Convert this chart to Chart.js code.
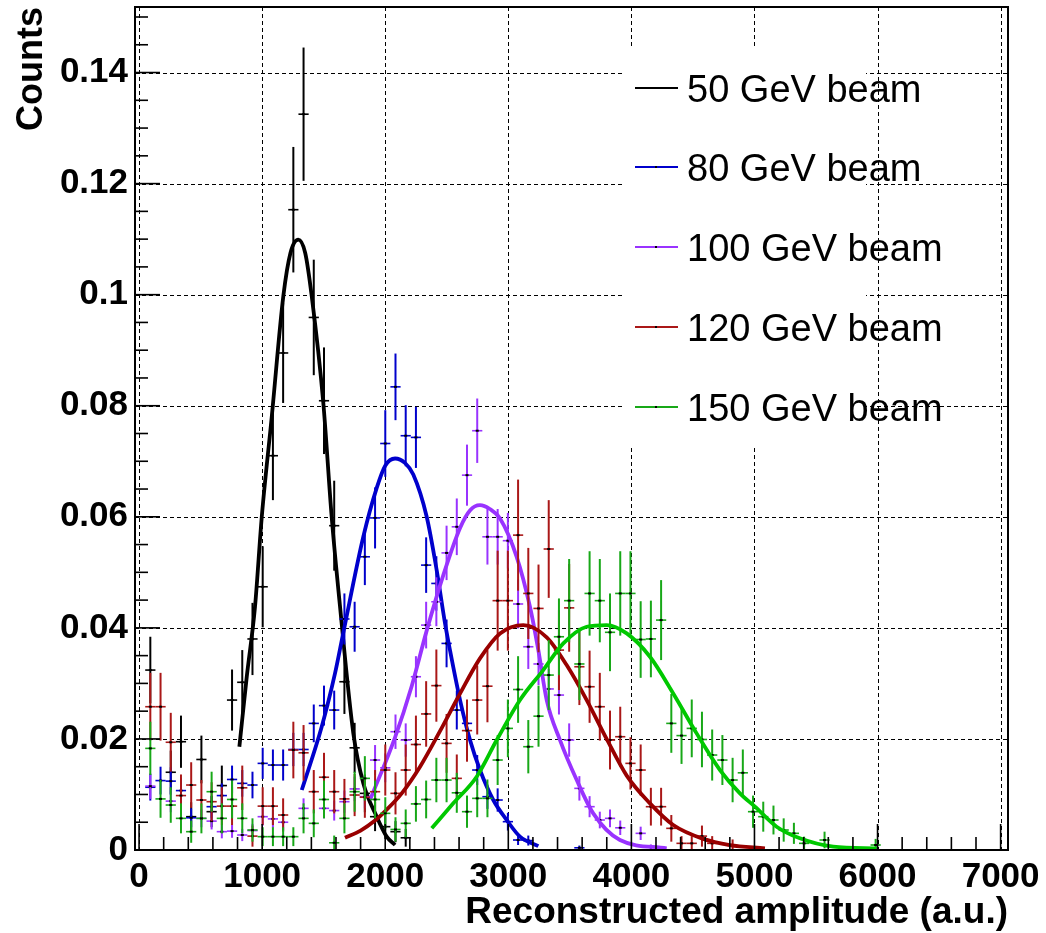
<!DOCTYPE html>
<html><head><meta charset="utf-8">
<script src="https://cdn.jsdelivr.net/npm/chart.js@4/dist/chart.umd.min.js"></script>
<style>html,body{margin:0;padding:0;background:#fff}canvas{display:block}</style>
</head><body>
<canvas id="c" width="1046" height="933"></canvas>
<script>
// ---- categories / labels ----
const seriesLabels = ['50 GeV beam', '80 GeV beam', '100 GeV beam', '120 GeV beam', '150 GeV beam'];
const xTickValues = [0, 1000, 2000, 3000, 4000, 5000, 6000, 7000];
const yTickValues = [0, 0.02, 0.04, 0.06, 0.08, 0.1, 0.12, 0.14];
const yTickLabels = ['0', '0.02', '0.04', '0.06', '0.08', '0.1', '0.12', '0.14'];
const xTitle = 'Reconstructed amplitude (a.u.)';
const yTitle = 'Counts';

// histogram binning (bin k centre = binLow + (k + 0.5) * binWidth), values start at bin index firstBin
const binLow = -33, binWidth = 83, firstBin = 1;

// ---- 50 GeV ----
const counts50 = [0.0324, null, 0.0140, 0.0195, 0.0060, 0.0163, 0.0069, 0.0116, 0.0270, 0.0302, 0.0380, 0.0474, 0.0710, 0.0895, 0.1153, 0.1325, 0.0959, 0.0809, 0.0584, 0.0303, 0.0184, 0.0102, 0.0060, 0.0042, 0.0033, 0.0022];
const errors50 = [0.0060, null, 0.0039, 0.0047, 0.0026, 0.0043, 0.0028, 0.0036, 0.0055, 0.0058, 0.0065, 0.0073, 0.0080, 0.0090, 0.0113, 0.0120, 0.0104, 0.0096, 0.0081, 0.0058, 0.0045, 0.0034, 0.0026, 0.0022, 0.0019, 0.0016];
const fit50X = [815, 875, 942, 997, 1078, 1172, 1230, 1294, 1350, 1403, 1497, 1565, 1633, 1741, 1822, 1931, 2012, 2080];
const fit50Y = [0.0186, 0.0312, 0.0438, 0.0600, 0.0780, 0.0997, 0.1075, 0.1099, 0.1075, 0.0997, 0.0805, 0.0600, 0.0438, 0.0210, 0.0120, 0.0060, 0.0024, 0.0009];

// ---- 80 GeV ----
const counts80 = [0.0113, 0.0125, 0.0124, 0.0107, 0.0058, null, 0.0078, 0.0098, 0.0127, 0.0120, 0.0117, 0.0156, 0.0153, 0.0153, 0.0181, 0.0181, 0.0228, 0.0260, 0.0252, 0.0416, 0.0402, 0.0528, 0.0598, 0.0732, 0.0834, 0.0746, 0.0743, 0.0513, 0.0480, 0.0372, 0.0252, 0.0228, 0.0144, 0.0096, 0.0090, 0.0051, 0.0018, 0.0017, null, null, null, null, 0.0004];
const errors80 = [0.0024, 0.0025, 0.0025, 0.0023, 0.0017, null, 0.0020, 0.0022, 0.0025, 0.0024, 0.0024, 0.0028, 0.0028, 0.0028, 0.0030, 0.0030, 0.0034, 0.0036, 0.0035, 0.0046, 0.0045, 0.0051, 0.0055, 0.0060, 0.0060, 0.0055, 0.0055, 0.0050, 0.0049, 0.0043, 0.0035, 0.0034, 0.0027, 0.0022, 0.0021, 0.0016, 0.0009, 0.0009, null, null, null, null, 0.0004];
const fit80X = [1322, 1484, 1592, 1660, 1822, 1931, 2000, 2080, 2160, 2228, 2337, 2418, 2486, 2526, 2608, 2689, 2770, 2878, 2987, 3095, 3244];
const fit80Y = [0.0108, 0.0222, 0.0318, 0.0392, 0.0564, 0.0652, 0.0692, 0.0705, 0.0697, 0.0676, 0.0600, 0.0504, 0.0408, 0.0360, 0.0270, 0.0198, 0.0144, 0.0090, 0.0054, 0.0024, 0.0007];

// ---- 100 GeV ----
const counts100 = [0.0115, null, 0.0088, null, null, 0.0057, 0.0052, 0.0033, 0.0034, 0.0027, 0.0035, 0.0060, 0.0056, 0.0050, null, 0.0075, null, 0.0075, 0.0071, 0.0087, 0.0110, 0.0096, 0.0162, 0.0148, 0.0213, 0.0198, 0.0312, 0.0405, 0.0447, 0.0535, 0.0582, 0.0675, 0.0755, 0.0564, 0.0564, 0.0557, 0.0443, 0.0366, 0.0335, 0.0290, 0.0279, 0.0198, 0.0111, 0.0078, 0.0054, 0.0057, 0.0040, null, 0.0030, 0.0005];
const errors100 = [0.0023, null, 0.0020, null, null, 0.0016, 0.0015, 0.0012, 0.0012, 0.0011, 0.0012, 0.0016, 0.0016, 0.0015, null, 0.0018, null, 0.0018, 0.0018, 0.0020, 0.0022, 0.0021, 0.0027, 0.0026, 0.0031, 0.0030, 0.0037, 0.0042, 0.0044, 0.0049, 0.0051, 0.0055, 0.0058, 0.0050, 0.0050, 0.0050, 0.0044, 0.0040, 0.0038, 0.0036, 0.0035, 0.0030, 0.0022, 0.0019, 0.0015, 0.0016, 0.0013, null, 0.0012, 0.0005];
const fit100X = [1880, 2080, 2215, 2337, 2472, 2608, 2690, 2770, 2850, 2933, 3068, 3176, 3244, 3312, 3420, 3556, 3690, 3907, 4287];
const fit100Y = [0.0092, 0.0203, 0.0295, 0.0395, 0.0495, 0.0580, 0.0612, 0.0621, 0.0614, 0.0597, 0.0528, 0.0438, 0.0360, 0.0270, 0.0198, 0.0126, 0.0066, 0.0018, 0.0003];

// ---- 120 GeV ----
const counts120 = [0.0258, 0.0258, 0.0194, 0.0098, 0.0117, 0.0090, 0.0087, 0.0079, 0.0079, 0.0112, 0.0025, 0.0079, 0.0079, 0.0063, 0.0180, 0.0175, 0.0105, 0.0131, 0.0105, 0.0092, 0.0099, 0.0095, 0.0105, 0.0144, 0.0102, 0.0144, 0.0190, 0.0245, 0.0296, 0.0192, 0.0129, 0.0215, 0.0270, 0.0295, 0.0449, 0.0449, 0.0567, 0.0462, 0.0435, 0.0542, 0.0360, 0.0436, 0.0330, 0.0294, 0.0258, 0.0198, 0.0204, 0.0156, 0.0144, 0.0078, 0.0078, 0.0039, 0.0012, 0.0012, 0.0025, 0.0012, null, 0.0008];
const errors120 = [0.0061, 0.0061, 0.0053, 0.0038, 0.0041, 0.0036, 0.0035, 0.0034, 0.0034, 0.0040, 0.0019, 0.0034, 0.0034, 0.0030, 0.0051, 0.0050, 0.0039, 0.0044, 0.0039, 0.0036, 0.0038, 0.0037, 0.0039, 0.0046, 0.0038, 0.0046, 0.0052, 0.0059, 0.0065, 0.0053, 0.0043, 0.0056, 0.0062, 0.0065, 0.0090, 0.0090, 0.0100, 0.0082, 0.0079, 0.0088, 0.0072, 0.0079, 0.0069, 0.0065, 0.0061, 0.0053, 0.0054, 0.0047, 0.0046, 0.0034, 0.0034, 0.0024, 0.0013, 0.0013, 0.0019, 0.0013, null, 0.0011];
const fit120X = [1673, 1800, 1917, 2000, 2134, 2283, 2445, 2594, 2770, 2933, 3122, 3312, 3474, 3637, 3799, 3962, 4151, 4340, 4584, 4800, 5085];
const fit120Y = [0.0022, 0.0035, 0.0053, 0.0070, 0.0102, 0.0150, 0.0214, 0.0276, 0.0345, 0.0390, 0.0405, 0.0383, 0.0333, 0.0270, 0.0200, 0.0134, 0.0084, 0.0045, 0.0020, 0.0009, 0.0003];

// ---- 150 GeV ----
const counts150 = [0.0183, 0.0092, 0.0081, 0.0057, 0.0033, 0.0057, 0.0105, 0.0057, 0.0091, 0.0057, 0.0036, 0.0024, 0.0024, 0.0024, 0.0024, 0.0057, 0.0048, 0.0091, 0.0013, 0.0057, 0.0105, 0.0129, 0.0091, 0.0066, 0.0037, 0.0048, 0.0083, 0.0091, 0.0126, 0.0126, 0.0103, 0.0069, 0.0093, 0.0093, 0.0162, 0.0219, 0.0289, 0.0186, 0.0241, 0.0315, 0.0384, 0.0449, 0.0335, 0.0462, 0.0449, 0.0392, 0.0462, 0.0462, 0.0379, 0.0380, 0.0414, 0.0228, 0.0206, 0.0219, 0.0199, 0.0171, 0.0162, 0.0126, 0.0139, 0.0069, 0.0060, 0.0054, 0.0036, 0.0030, 0.0012, null, 0.0018, null, null, null, null, 0.0009];
const errors150 = [0.0048, 0.0034, 0.0032, 0.0027, 0.0020, 0.0027, 0.0036, 0.0027, 0.0034, 0.0027, 0.0021, 0.0017, 0.0017, 0.0017, 0.0017, 0.0027, 0.0025, 0.0034, 0.0013, 0.0027, 0.0036, 0.0040, 0.0034, 0.0029, 0.0022, 0.0025, 0.0032, 0.0034, 0.0040, 0.0040, 0.0036, 0.0029, 0.0034, 0.0034, 0.0045, 0.0052, 0.0060, 0.0048, 0.0055, 0.0063, 0.0069, 0.0075, 0.0065, 0.0076, 0.0075, 0.0070, 0.0076, 0.0076, 0.0069, 0.0069, 0.0072, 0.0053, 0.0051, 0.0052, 0.0050, 0.0046, 0.0045, 0.0040, 0.0042, 0.0029, 0.0027, 0.0026, 0.0021, 0.0019, 0.0012, null, 0.0015, null, null, null, null, 0.0011];
const fit150X = [2378, 2553, 2743, 2906, 3095, 3284, 3447, 3637, 3799, 3962, 4151, 4340, 4530, 4720, 4882, 5004, 5180, 5369, 5640, 5993];
const fit150Y = [0.0039, 0.0084, 0.0132, 0.0198, 0.0270, 0.0324, 0.0372, 0.0402, 0.0405, 0.0390, 0.0348, 0.0282, 0.0210, 0.0144, 0.0102, 0.0078, 0.0042, 0.0021, 0.0006, 0.0003];

// ---- styles ----
const histColors = ['#000000', '#0000cc', '#9933ff', '#aa1818', '#18a818'];
const fitColors = ['#000000', '#0000cc', '#9933ff', '#990000', '#00c800'];
const FONT = '"Liberation Sans", Arial, Helvetica, sans-serif';

// ---- build datasets from the arrays ----
function histPoints(counts, errors) {
  const pts = [];
  counts.forEach((v, i) => {
    if (v === null) return;
    const k = firstBin + i;
    pts.push({ x: binLow + (k + 0.5) * binWidth, y: v, e: errors[i] });
  });
  return pts;
}
function fitPoints(xs, ys) { return xs.map((x, i) => ({ x: x, y: ys[i] })); }

const histSets = [[counts50, errors50], [counts80, errors80], [counts100, errors100], [counts120, errors120], [counts150, errors150]];
const fitSets = [[fit50X, fit50Y], [fit80X, fit80Y], [fit100X, fit100Y], [fit120X, fit120Y], [fit150X, fit150Y]];

const datasets = [];
let drawIdx = 0;
const total = 10;
for (let i = 0; i < 5; i++) {
  datasets.push({
    label: seriesLabels[i], isHist: true, data: histPoints(histSets[i][0], histSets[i][1]),
    borderColor: histColors[i], backgroundColor: histColors[i], pointRadius: 0, showLine: false,
    order: total - (drawIdx++)
  });
  datasets.push({
    label: seriesLabels[i] + ' fit', isFit: true, data: fitPoints(fitSets[i][0], fitSets[i][1]),
    borderColor: fitColors[i], backgroundColor: fitColors[i], pointRadius: 0, showLine: true,
    borderWidth: 3.8, cubicInterpolationMode: 'monotone', order: total - (drawIdx++)
  });
}

const errorBarPlugin = {
  id: 'errorBars',
  afterDatasetDraw(chart, args) {
    const ds = chart.data.datasets[args.index];
    if (!ds.isHist) return;
    const { ctx, chartArea, scales } = chart;
    const xs = scales.x, ys = scales.y;
    ctx.save();
    ctx.beginPath();
    ctx.rect(chartArea.left, chartArea.top, chartArea.width, chartArea.height);
    ctx.clip();
    ds.data.forEach(p => {
      const px = xs.getPixelForValue(p.x);
      const py = ys.getPixelForValue(p.y);
      const xl = xs.getPixelForValue(p.x - binWidth / 2);
      const xr = xs.getPixelForValue(p.x + binWidth / 2);
      const yt = ys.getPixelForValue(p.y + p.e);
      const yb = ys.getPixelForValue(p.y - p.e);
      ctx.strokeStyle = ds.borderColor;
      ctx.lineWidth = 2;
      ctx.beginPath(); ctx.moveTo(px, yt); ctx.lineTo(px, yb); ctx.stroke();
      ctx.lineWidth = 1.6;
      ctx.beginPath(); ctx.moveTo(xl, py); ctx.lineTo(xr, py); ctx.stroke();
      ctx.fillStyle = '#000';
      ctx.fillRect(px - 1.5, py - 1, 3, 2);
    });
    ctx.restore();
  }
};

const frameLegendPlugin = {
  id: 'frameLegend',
  beforeDatasetsDraw(chart) {
    const { ctx, chartArea: a, scales } = chart;
    ctx.save();
    ctx.strokeStyle = '#000';
    ctx.lineWidth = 1;
    ctx.setLineDash([4, 3]);
    xTickValues.forEach(v => {
      const px = Math.round(scales.x.getPixelForValue(v)) + 0.5;
      ctx.beginPath(); ctx.moveTo(px, a.top); ctx.lineTo(px, a.bottom); ctx.stroke();
    });
    yTickValues.forEach(v => {
      if (v === 0) return;
      const py = Math.round(scales.y.getPixelForValue(v)) + 0.5;
      ctx.beginPath(); ctx.moveTo(a.left, py); ctx.lineTo(a.right, py); ctx.stroke();
    });
    ctx.restore();
  },
  afterDatasetsDraw(chart) {
    const { ctx, chartArea: a, scales } = chart;
    ctx.save();
    // legend box (white, no border)
    ctx.fillStyle = '#fff';
    ctx.fillRect(625, 46, 241, 400);
    const rowY = [88, 167, 247, 327, 407];
    ctx.font = '38px ' + FONT;
    ctx.textAlign = 'left';
    ctx.textBaseline = 'alphabetic';
    for (let i = 0; i < seriesLabels.length; i++) {
      const y = rowY[i];
      ctx.strokeStyle = histColors[i];
      ctx.lineWidth = 2;
      ctx.beginPath(); ctx.moveTo(635, y); ctx.lineTo(678, y); ctx.stroke();
      ctx.fillStyle = '#000';
      ctx.fillRect(655, y - 1, 2, 2);
      ctx.fillText(seriesLabels[i], 687, y + 13.6);
    }
    // frame
    ctx.strokeStyle = '#000';
    ctx.lineWidth = 2;
    ctx.setLineDash([]);
    ctx.strokeRect(a.left, a.top, a.right - a.left, a.bottom - a.top);
    // inner ticks
    ctx.lineWidth = 1.6;
    for (let v = 0; v <= 7000; v += 200) {
      const px = scales.x.getPixelForValue(v);
      const len = (v % 1000 === 0) ? 26 : 13;
      ctx.beginPath(); ctx.moveTo(px, a.bottom); ctx.lineTo(px, a.bottom - len); ctx.stroke();
    }
    for (let j = 0; j <= 30; j++) {
      const v = j * 0.005;
      const py = scales.y.getPixelForValue(v);
      if (py < a.top) continue;
      const len = (j % 4 === 0) ? 25 : 13;
      ctx.beginPath(); ctx.moveTo(a.left, py); ctx.lineTo(a.left + len, py); ctx.stroke();
    }
    ctx.restore();
  }
};

new Chart(document.getElementById('c'), {
  type: 'scatter',
  data: { datasets: datasets },
  options: {
    responsive: false,
    animation: false,
    devicePixelRatio: 1,
    layout: { padding: { top: 7, right: 38, bottom: 0, left: 0 } },
    plugins: { legend: { display: false }, tooltip: { enabled: false } },
    scales: {
      x: {
        type: 'linear', min: -33, max: 7060,
        afterBuildTicks: s => { s.ticks = xTickValues.map(v => ({ value: v })); },
        afterFit: s => { s.height = 83; s.paddingLeft = 0; s.paddingRight = 0; },
        grid: { display: false, drawTicks: false },
        border: { display: false },
        ticks: { color: '#000', font: { family: FONT, size: 35, weight: 'bold' }, padding: 6, maxRotation: 0, autoSkip: false, callback: v => String(v) },
        title: { display: true, text: xTitle, align: 'end', color: '#000', font: { family: FONT, size: 37, weight: 'bold', lineHeight: 1 }, padding: { top: 0, bottom: 1.5 } }
      },
      y: {
        type: 'linear', min: 0, max: 0.1518,
        afterBuildTicks: s => { s.ticks = yTickValues.map(v => ({ value: v })); },
        afterFit: s => { s.width = 135; s.paddingTop = 0; s.paddingBottom = 0; },
        grid: { display: false, drawTicks: false },
        border: { display: false },
        ticks: { color: '#000', font: { family: FONT, size: 35, weight: 'bold' }, padding: 7, autoSkip: false,
          callback: (v) => { const i = yTickValues.findIndex(t => Math.abs(t - v) < 1e-9); return i >= 0 ? yTickLabels[i] : ''; } },
        title: { display: true, text: yTitle, align: 'end', color: '#000', font: { family: FONT, size: 36, weight: 'bold' }, padding: { top: 10, bottom: 0 } }
      }
    }
  },
  plugins: [errorBarPlugin, frameLegendPlugin]
});
</script>
</body></html>
